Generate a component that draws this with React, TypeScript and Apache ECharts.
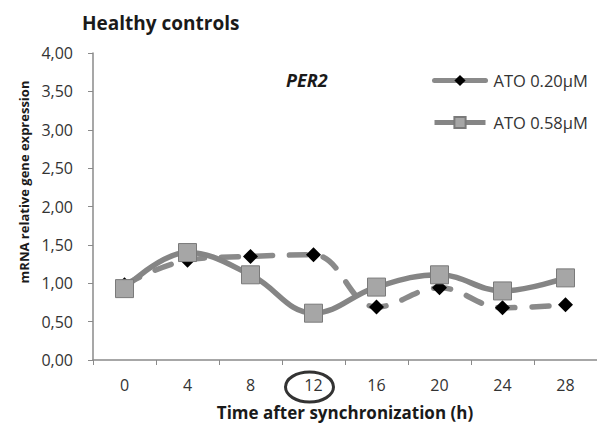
import React, { useEffect, useRef } from "react";
import * as echarts from "echarts";

const categories = ["0", "4", "8", "12", "16", "20", "24", "28"];
const ato020 = [0.98, 1.3, 1.35, 1.37, 0.69, 0.94, 0.68, 0.72];
const ato058 = [0.93, 1.4, 1.11, 0.61, 0.95, 1.11, 0.9, 1.07];
const seriesNames = ["ATO 0.20µM", "ATO 0.58µM"];
const yAxisTitle = "mRNA relative gene expression";

const FONT = "'Open Sans', Lato, sans-serif";

export default function App() {
  const ref = useRef<HTMLDivElement>(null);
  useEffect(() => {
    if (!ref.current) return;
    const chart = echarts.init(ref.current, undefined, { renderer: "svg" });
    const option: any = {
      animation: false,
      backgroundColor: "#ffffff",
      textStyle: { fontFamily: FONT },
      grid: { left: 93, top: 53, width: 508, bottom: 62, containLabel: false },
      title: [
        {
          text: "Healthy controls",
          left: 77,
          top: 8,
          textStyle: { fontFamily: FONT, fontSize: 19, fontWeight: "bold", color: "#1a1a1a" },
        },
        {
          text: "PER2",
          left: 281,
          top: 66,
          textStyle: { fontFamily: FONT, fontSize: 18, fontWeight: "bold", fontStyle: "italic", color: "#1a1a1a" },
        },
      ],
      legend: {
        orient: "vertical",
        left: 432,
        top: 72,
        padding: 0,
        itemWidth: 51,
        itemHeight: 14,
        itemGap: 25,
        textStyle: { fontFamily: FONT, fontSize: 16.5, color: "#333", padding: [0, 0, 0, 3], lineHeight: 17 },
        data: [
          { name: seriesNames[0], lineStyle: { width: 5, type: "solid" } },
          { name: seriesNames[1], lineStyle: { width: 5, type: "solid" } },
        ],
      },
      xAxis: {
        type: "category",
        data: categories,
        boundaryGap: true,
        name: "Time after synchronization (h)",
        nameLocation: "middle",
        nameGap: 44,
        nameTextStyle: { fontFamily: FONT, fontSize: 17, fontWeight: "bold", color: "#1a1a1a" },
        axisLine: { lineStyle: { color: "#8a8a8a", width: 1.5 } },
        axisTick: { show: true, length: 5, inside: false, lineStyle: { color: "#8a8a8a" } },
        axisLabel: { fontFamily: FONT, fontSize: 16, color: "#333", margin: 17 },
      },
      yAxis: {
        type: "value",
        min: 0,
        max: 4,
        interval: 0.5,
        axisLine: { show: true, lineStyle: { color: "#8a8a8a", width: 1.5 } },
        axisTick: { show: true, length: 5, inside: false, lineStyle: { color: "#8a8a8a" } },
        splitLine: { show: false },
        axisLabel: {
          fontFamily: FONT,
          fontSize: 16,
          color: "#333",
          margin: 20,
          formatter: (v: number) => v.toFixed(2).replace(".", ","),
        },
      },
      graphic: [
        {
          type: "text",
          x: 24,
          y: 182,
          rotation: Math.PI / 2,
          style: {
            text: yAxisTitle,
            fontFamily: FONT,
            fontSize: 13,
            fontWeight: "bold",
            fill: "#1a1a1a",
            align: "center",
            verticalAlign: "middle",
          },
        },
      ],
      series: [
        {
          name: seriesNames[0],
          type: "line",
          data: ato020,
          smooth: 0.4,
          symbol: "diamond",
          symbolSize: 15,
          itemStyle: { color: "#000000" },
          lineStyle: { color: "#8a8a8a", width: 5.5, type: [17, 17], cap: "round" },
          z: 2,
        },
        {
          name: seriesNames[1],
          type: "line",
          data: ato058,
          smooth: 0.4,
          symbol: "rect",
          symbolSize: 18,
          itemStyle: { color: "#a6a6a6", borderColor: "#7a7a7a", borderWidth: 1 },
          lineStyle: { color: "#858585", width: 5.5 },
          z: 3,
        },
      ],
    };
    chart.setOption(option);
    const px = chart.convertToPixel({ xAxisIndex: 0 }, "12") as number;
    chart.setOption({
      graphic: [
        {},
        {
          type: "ellipse",
          shape: { cx: px - 4, cy: 387, rx: 24, ry: 15 },
          style: { fill: "none", stroke: "#333333", lineWidth: 3 },
          z: 10,
        },
      ],
    });
    return () => chart.dispose();
  }, []);
  return <div ref={ref} style={{ width: 597, height: 426, position: "absolute", left: 0, top: 0 }} />;
}
